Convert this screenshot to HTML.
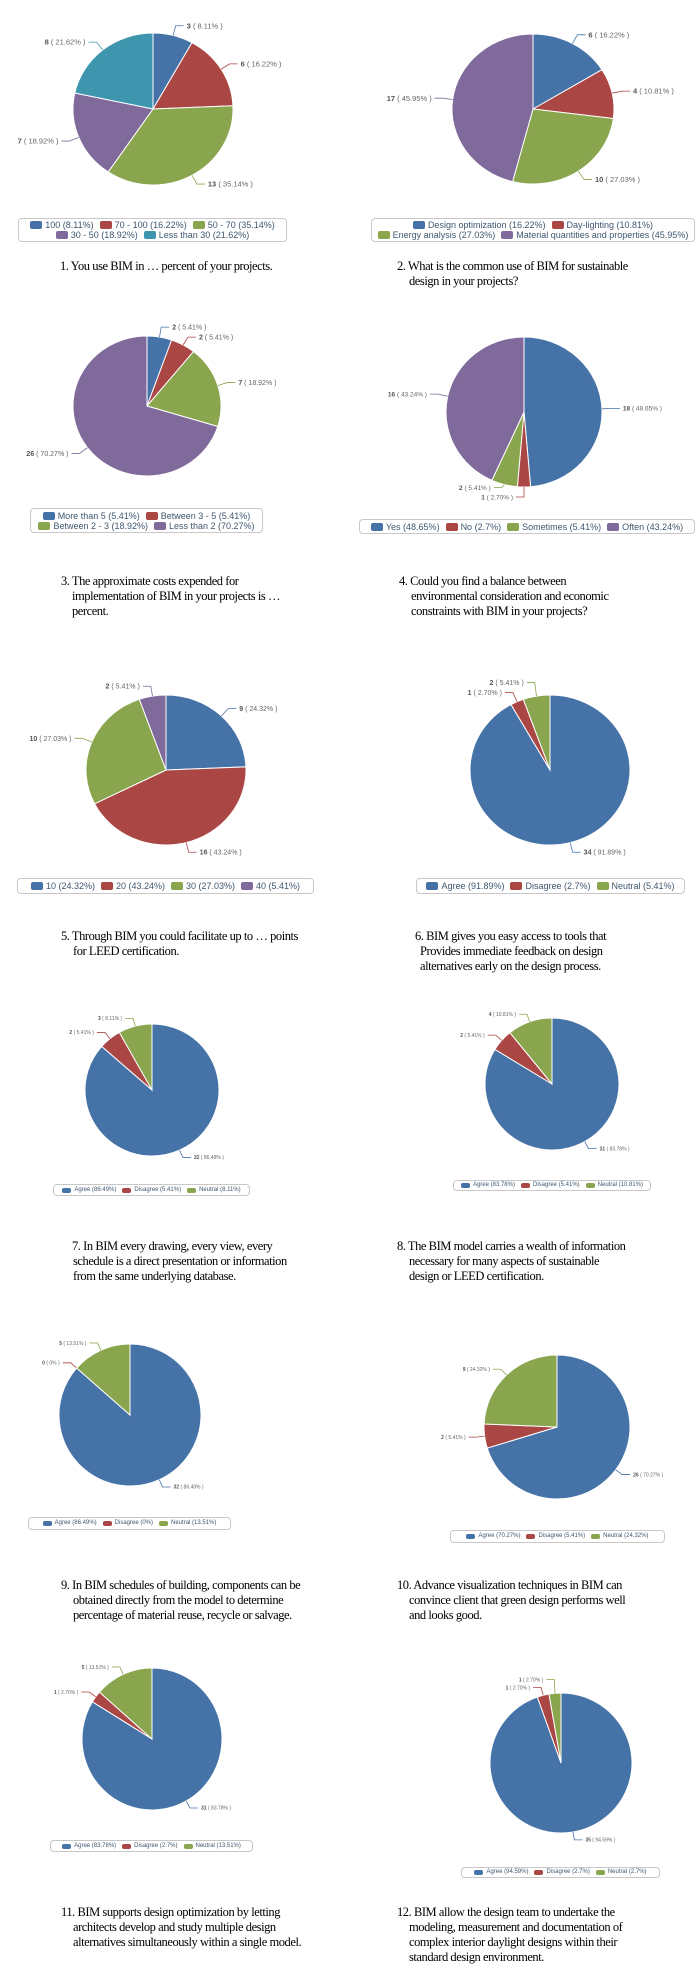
<!DOCTYPE html>
<html>
<head>
<meta charset="utf-8">
<style>
  html,body{margin:0;padding:0;background:#fff;}
  #wrap{position:relative;width:696px;height:1974px;overflow:hidden;background:#fff;}
  svg{position:absolute;left:0;top:0;}
  .legend{position:absolute;box-sizing:border-box;border:1px solid #c8c8c8;border-radius:4px;background:#fff;
    display:flex;flex-wrap:wrap;justify-content:center;align-content:center;font-family:"Liberation Sans",sans-serif;color:#3e576f;}
  .li{display:flex;align-items:center;white-space:nowrap;margin:0 3px;}
  .sw{display:inline-block;border-radius:2px;margin-right:3px;}
  .brk{flex-basis:100%;height:0;}
  .cap{position:absolute;font-family:"Liberation Serif",serif;font-size:12.5px;letter-spacing:-0.45px;color:#000;white-space:nowrap;line-height:15px;}
</style>
</head>
<body>
<div id="wrap">
<svg id="svg" width="696" height="1974"></svg>
</div>
<script>
// ---- chart data ----
const c1Cats=["100","70 - 100","50 - 70","30 - 50","Less than 30"];
const c1Vals=[3,6,13,7,8];
const c2Cats=["Design optimization","Day-lighting","Energy analysis","Material quantities and properties"];
const c2Vals=[6,4,10,17];
const c3Cats=["More than 5","Between 3 - 5","Between 2 - 3","Less than 2"];
const c3Vals=[2,2,7,26];
const c4Cats=["Yes","No","Sometimes","Often"];
const c4Vals=[18,1,2,16];
const c5Cats=["10","20","30","40"];
const c5Vals=[9,16,10,2];
const c6Cats=["Agree","Disagree","Neutral"];
const c6Vals=[34,1,2];
const c7Cats=["Agree","Disagree","Neutral"];
const c7Vals=[32,2,3];
const c8Cats=["Agree","Disagree","Neutral"];
const c8Vals=[31,2,4];
const c9Cats=["Agree","Disagree","Neutral"];
const c9Vals=[32,0,5];
const c10Cats=["Agree","Disagree","Neutral"];
const c10Vals=[26,2,9];
const c11Cats=["Agree","Disagree","Neutral"];
const c11Vals=[31,1,5];
const c12Cats=["Agree","Disagree","Neutral"];
const c12Vals=[35,1,1];

const captions=[
 ["1. You use BIM in … percent of your projects."],
 ["2. What is the common use of BIM for sustainable","design in your projects?"],
 ["3. The approximate costs expended for","implementation  of BIM in your projects  is …","percent."],
 ["4. Could you find a balance between","environmental consideration and economic","constraints with BIM in your projects?"],
 ["5. Through BIM you could facilitate  up to … points","for LEED certification."],
 ["6. BIM gives you easy access to tools that","Provides immediate feedback on design","alternatives early on the design process."],
 ["7. In BIM every drawing, every view, every","schedule is a direct presentation or information","from the same underlying database."],
 ["8. The BIM model  carries a wealth of information","necessary for many  aspects of sustainable","design or LEED  certification."],
 ["9. In BIM schedules of building, components can be","obtained directly from the model to determine","percentage of material reuse, recycle or salvage."],
 ["10. Advance visualization  techniques in BIM can","convince client  that green design performs well","and looks good."],
 ["11. BIM supports design optimization  by letting","architects develop and study multiple design","alternatives simultaneously within a single model."],
 ["12. BIM allow the design team to undertake the","modeling, measurement and documentation  of","complex interior daylight designs within their","standard design environment."]
];

// ---- layout (not data) ----
const COLORS=["#4572A7","#AA4643","#89A54E","#80699B","#3D96AE"];
const layouts=[
 {cats:c1Cats,vals:c1Vals,cx:153,cy:109,rx:80,ry:76,lg:[18,218,269,24],fs:9,lf:7.5,brk:3,cap:[60,60,259]},
 {cats:c2Cats,vals:c2Vals,cx:533,cy:109,rx:81,ry:75,lg:[371,218,324,24],fs:9,lf:7.5,brk:2,cap:[397,409,259]},
 {cats:c3Cats,vals:c3Vals,cx:147,cy:406,rx:74,ry:70,lg:[30,508,233,25],fs:9,lf:7,brk:2,cap:[61,72,574]},
 {cats:c4Cats,vals:c4Vals,cx:524,cy:412,rx:78,ry:75,lg:[359,519,336,15],fs:9,lf:6.5,brk:0,cap:[399,411,574]},
 {cats:c5Cats,vals:c5Vals,cx:166,cy:770,rx:80,ry:75,lg:[17,878,297,16],fs:9,lf:7,brk:0,cap:[61,73,929]},
 {cats:c6Cats,vals:c6Vals,cx:550,cy:770,rx:80,ry:75,lg:[416,878,269,16],fs:9,lf:7,brk:0,cap:[415,420,929]},
 {cats:c7Cats,vals:c7Vals,cx:152,cy:1090,rx:67,ry:66,lg:[53,1184,197,12],fs:6,lf:5,brk:0,cap:[72,73,1239]},
 {cats:c8Cats,vals:c8Vals,cx:552,cy:1084,rx:67,ry:66,lg:[453,1180,198,11],fs:6,lf:5,brk:0,cap:[397,409,1239]},
 {cats:c9Cats,vals:c9Vals,cx:130,cy:1415,rx:71,ry:71,lg:[28,1517,203,13],fs:6,lf:5,brk:0,cap:[61,73,1578]},
 {cats:c10Cats,vals:c10Vals,cx:557,cy:1427,rx:73,ry:72,lg:[450,1530,215,13],fs:6,lf:5,brk:0,cap:[397,409,1578]},
 {cats:c11Cats,vals:c11Vals,cx:152,cy:1739,rx:70,ry:71,lg:[50,1840,203,12],fs:6,lf:5,brk:0,cap:[61,73,1905]},
 {cats:c12Cats,vals:c12Vals,cx:561,cy:1763,rx:71,ry:70,lg:[461,1867,199,11],fs:6,lf:5,brk:0,cap:[397,409,1905]}
];

const NS="http://www.w3.org/2000/svg";
const svg=document.getElementById("svg");
const wrap=document.getElementById("wrap");
function pctLabel(v,t){ if(v===0) return "0%"; return (v/t*100).toFixed(2)+"%"; }
function pctLegend(v,t){ if(v===0) return "0%"; return parseFloat((v/t*100).toFixed(2))+"%"; }
function pt(L,a,k){ return [L.cx+(L.rx+k)*Math.cos(a), L.cy+(L.ry+k)*Math.sin(a)]; }

layouts.forEach(function(L,ci){
  const total=L.vals.reduce(function(s,v){return s+v;},0);
  const g=document.createElementNS(NS,"g");
  
  
  svg.appendChild(g);
  let a0=-Math.PI/2;
  let lastLeft=null, lastRight=null;
  const gap=L.lf+3;
  L.vals.forEach(function(v,i){
    const sweep=v/total*Math.PI*2;
    const a1=a0+sweep;
    const col=COLORS[i%COLORS.length];
    if(v>0){
      const p0=pt(L,a0,0), p1=pt(L,a1,0);
      const large=sweep>Math.PI?1:0;
      const path=document.createElementNS(NS,"path");
      path.setAttribute("d","M"+L.cx+","+L.cy+" L"+p0[0]+","+p0[1]+" A"+L.rx+","+L.ry+" 0 "+large+" 1 "+p1[0]+","+p1[1]+" Z");
      path.setAttribute("fill",col);
      path.setAttribute("stroke","#fff");
      path.setAttribute("stroke-width","1");
      
      
      g.appendChild(path);
    }
    // data label
    const am=a0+sweep/2;
    const big=L.fs>7;
    const e0=pt(L,am,0), e1=pt(L,am,big?10:8);
    const right=Math.cos(am)>=0;
    let ly=e1[1];
    if(right){
      if(lastRight!==null && ly<lastRight+gap) ly=lastRight+gap;
      lastRight=ly;
    } else {
      if(lastLeft!==null && ly>lastLeft-gap) ly=lastLeft-gap;
      lastLeft=ly;
    }
    const ex=e1[0]+(right?8:-8);
    const ln=document.createElementNS(NS,"polyline");
    ln.setAttribute("points",e0[0]+","+e0[1]+" "+e1[0]+","+ly+" "+ex+","+ly);
    ln.setAttribute("fill","none");
    ln.setAttribute("stroke",col);
    ln.setAttribute("stroke-width","0.8");
    
    
    g.appendChild(ln);
    const tx=document.createElementNS(NS,"text");
    tx.setAttribute("x",ex+(right?3:-3));
    tx.setAttribute("y",ly+L.lf*0.35);
    tx.setAttribute("text-anchor",right?"start":"end");
    tx.setAttribute("font-family","Liberation Sans, sans-serif");
    tx.setAttribute("font-size",L.lf);
    tx.setAttribute("fill","#666");
    
    
    const b=document.createElementNS(NS,"tspan");
    b.setAttribute("font-weight","bold");
    b.setAttribute("fill","#555");
    b.textContent=v+" ";
    tx.appendChild(b);
    const r=document.createElementNS(NS,"tspan");
    r.textContent="( "+pctLabel(v,total)+" )";
    tx.appendChild(r);
    g.appendChild(tx);
    a0=a1;
  });
  // legend
  const lg=document.createElement("div");
  lg.className="legend";
  
  
  lg.style.left=L.lg[0]+"px"; lg.style.top=L.lg[1]+"px";
  lg.style.width=L.lg[2]+"px"; lg.style.height=L.lg[3]+"px";
  lg.style.fontSize=L.fs+"px"; lg.style.lineHeight=(L.fs+1)+"px";
  L.cats.forEach(function(c,i){
    if(L.brk && i===L.brk){ const br=document.createElement("div"); br.className="brk"; lg.appendChild(br); }
    const it=document.createElement("span");
    it.className="li";
    
    
    const sw=document.createElement("span");
    sw.className="sw";
    sw.style.background=COLORS[i%COLORS.length];
    sw.style.width=(L.fs+3)+"px"; sw.style.height=(L.fs-1)+"px";
    it.appendChild(sw);
    it.appendChild(document.createTextNode(c+" ("+pctLegend(L.vals[i],total)+")"));
    lg.appendChild(it);
  });
  wrap.appendChild(lg);
  // caption
  const cap=document.createElement("div");
  cap.className="cap";
  
  
  cap.style.left=L.cap[0]+"px"; cap.style.top=L.cap[2]+"px";
  captions[ci].forEach(function(line,k){
    const d=document.createElement("div");
    d.textContent=line;
    if(k>0) d.style.paddingLeft=(L.cap[1]-L.cap[0])+"px";
    cap.appendChild(d);
  });
  wrap.appendChild(cap);
});
</script>
</body>
</html>
